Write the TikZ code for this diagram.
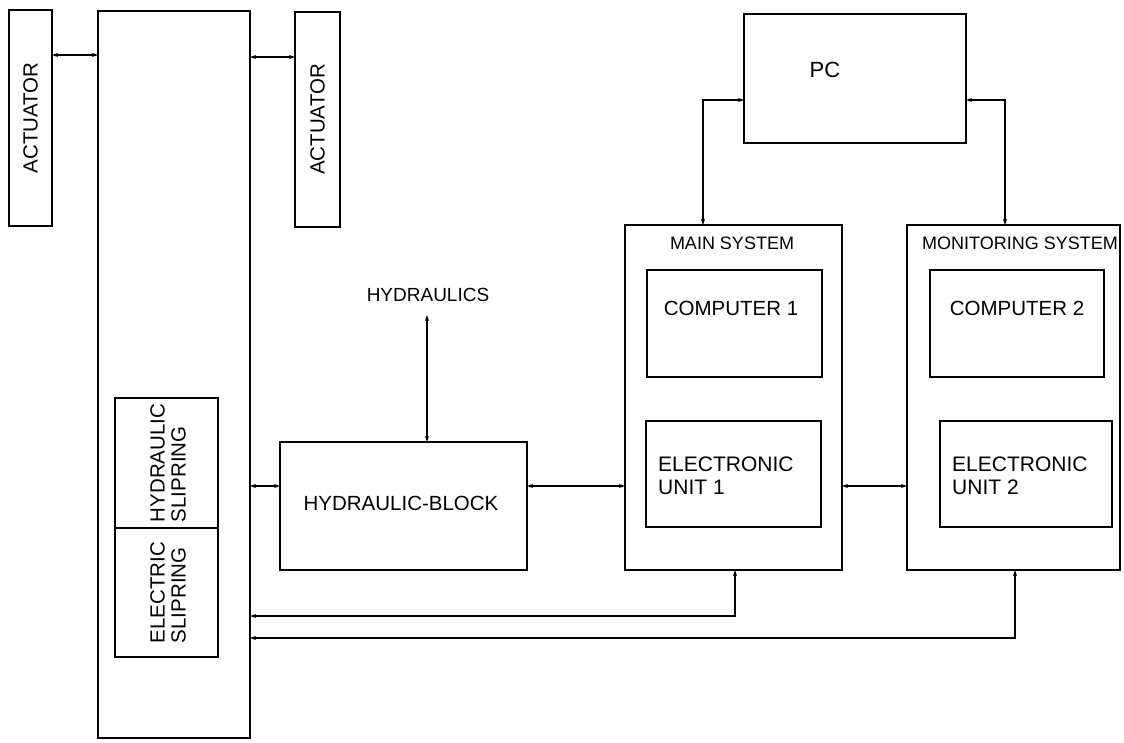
\documentclass[tikz,border=0pt]{standalone}
\usepackage{fontspec}
\setmainfont{Liberation Sans}
\usetikzlibrary{arrows.meta}
\begin{document}
\begin{tikzpicture}[x=1pt,y=-1pt,
  box/.style={draw, line width=1.3pt, inner sep=0pt, minimum width=#1},
  lbl/.style={inner sep=0pt, font=\fontsize{20.5}{23}\selectfont},
  hdr/.style={inner sep=0pt, font=\fontsize{18}{20}\selectfont},
  conn/.style={line width=1.2pt, {Stealth[length=6pt,width=4pt]}-{Stealth[length=6pt,width=4pt]}},
  ]
\useasboundingbox (0,0) rectangle (1124,742);
% actuators and column
\node[box=43pt, minimum height=216pt] (act1) at (30.5,118) {};
\node[lbl, rotate=90] (act1t) at (act1.center) {ACTUATOR};
\node[box=152pt, minimum height=727pt] (col) at (174,374.5) {};
\node[box=45pt, minimum height=215pt] (act2) at (317.5,119.5) {};
\node[lbl, rotate=90] (act2t) at (act2.center) {ACTUATOR};
% sliprings
\node[box=103pt, minimum height=130pt] (hslip) at (166.5,463) {};
\node[lbl, rotate=90, align=left, font=\fontsize{20.5}{21}\selectfont] (hslipt) at (168,463) {HYDRAULIC\\SLIPRING};
\node[box=103pt, minimum height=129pt] (eslip) at (166.5,592.5) {};
\node[lbl, rotate=90, align=left, font=\fontsize{20.5}{21}\selectfont] (eslipt) at (168,592.5) {ELECTRIC\\SLIPRING};
% hydraulic block
\node[box=247pt, minimum height=128pt] (hblock) at (403.5,506) {};
\node[lbl] (hblockt) at (401,503) {HYDRAULIC-BLOCK};
\node[lbl, font=\fontsize{19}{22}\selectfont] (hyd) at (428,295) {HYDRAULICS};
% main system
\node[box=217pt, minimum height=345pt] (main) at (733.5,397.5) {};
\node[hdr] (maint) at (732,243) {MAIN SYSTEM};
\node[box=175pt, minimum height=107pt] (comp1) at (734.5,323.5) {};
\node[lbl] (comp1t) at (731,308) {COMPUTER 1};
\node[box=175pt, minimum height=106pt] (eu1) at (733.5,474) {};
\node[lbl, align=left, anchor=west, font=\fontsize{21}{23}\selectfont] (eu1t) at (658,476) {ELECTRONIC\\UNIT 1};
% monitoring system
\node[box=213pt, minimum height=345pt] (mon) at (1013.5,397.5) {};
\node[hdr] (mont) at (1020,243) {MONITORING SYSTEM};
\node[box=174pt, minimum height=107pt] (comp2) at (1017,323.5) {};
\node[lbl] (comp2t) at (1017,308) {COMPUTER 2};
\node[box=172pt, minimum height=106pt] (eu2) at (1026,474) {};
\node[lbl, align=left, anchor=west, font=\fontsize{21}{23}\selectfont] (eu2t) at (952,476) {ELECTRONIC\\UNIT 2};
% PC
\node[box=222pt, minimum height=129pt] (pc) at (855,78.5) {};
\node[lbl, font=\fontsize{22}{26}\selectfont] (pct) at (825,70) {PC};
% coordinates
\coordinate (a1) at (52,55);
\coordinate (a2) at (98,55);
\coordinate (a3) at (250,57);
\coordinate (a4) at (295,57);
\coordinate (h1) at (250,486);
\coordinate (h2) at (280,486);
\coordinate (h3) at (527,486);
\coordinate (h4) at (625,486);
\coordinate (h5) at (842,486);
\coordinate (h6) at (907,486);
\coordinate (y1) at (427,315);
\coordinate (y2) at (427,442);
\coordinate (m1) at (735,570);
\coordinate (m2) at (250,616);
\coordinate (n1) at (1015,570);
\coordinate (n2) at (250,638);
\coordinate (p1) at (703,225);
\coordinate (p2) at (744,100);
\coordinate (q1) at (966,100);
\coordinate (q2) at (1005,225);
% connectors
\draw[conn] (a1) -- (a2);
\draw[conn] (a3) -- (a4);
\draw[conn] (h1) -- (h2);
\draw[conn] (h3) -- (h4);
\draw[conn] (h5) -- (h6);
\draw[conn] (y1) -- (y2);
\draw[conn] (m1) |- (m2);
\draw[conn] (n1) |- (n2);
\draw[conn] (p1) |- (p2);
\draw[conn] (q1) -| (q2);
\end{tikzpicture}
\end{document}
